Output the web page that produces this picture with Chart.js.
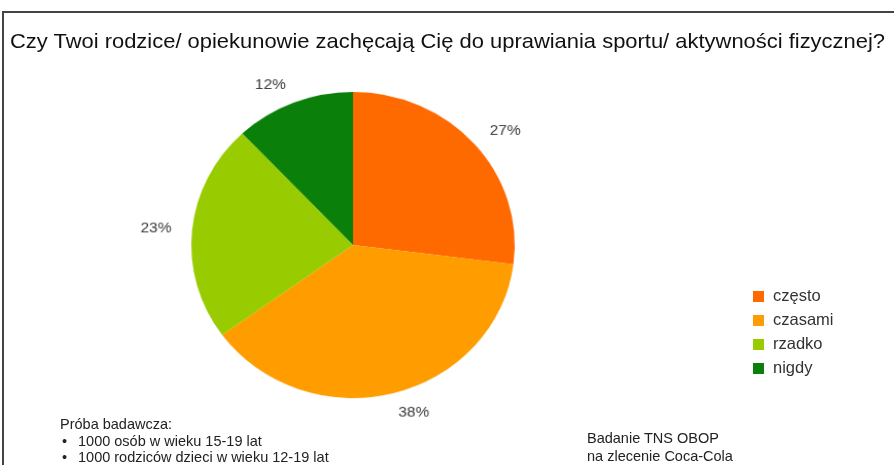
<!DOCTYPE html>
<html><head><meta charset="utf-8">
<script src="https://cdn.jsdelivr.net/npm/chart.js@4/dist/chart.umd.min.js"></script>
<style>
html,body{margin:0;padding:0;background:#fff;}
#wrap{position:relative;width:894px;height:465px;overflow:hidden;font-family:"Liberation Sans",Arial,sans-serif;color:#222;}
#frame{position:absolute;left:2px;top:11px;width:900px;height:470px;border-top:2px solid #444;border-left:2px solid #444;}
#title{position:absolute;left:10px;top:29px;font-size:21px;white-space:nowrap;color:#111;transform-origin:0 0;}
#legend{position:absolute;left:753px;top:286px;font-size:16.5px;color:#333;}
#legend div{height:24px;line-height:18px;white-space:nowrap;}
#legend span.sw{display:inline-block;width:11px;height:11px;margin-right:9px;vertical-align:-1px;}
#sample{position:absolute;left:60px;top:416px;font-size:14.5px;line-height:16.5px;color:#222;}
#sample .li{padding-left:18px;position:relative;}
#sample .li:before{content:"•";position:absolute;left:2px;}
#src{position:absolute;left:587px;top:429px;font-size:14.5px;line-height:18px;color:#222;}
canvas{position:absolute;left:0;top:0;transform-origin:353px 245px;transform:scale(1.03,0.975);}
</style></head>
<body>
<div id="wrap">
<div id="frame"></div>
<canvas id="c" width="894" height="465"></canvas>
<div id="title"></div>
<div id="legend"></div>
<div id="sample"></div>
<div id="src"></div>
</div>
<script>
const titleText = "Czy Twoi rodzice/ opiekunowie zachęcają Cię do uprawiania sportu/ aktywności fizycznej?";
const categories = ["często", "czasami", "rzadko", "nigdy"];
const values = [27, 38, 23, 12];
const colors = ["#FF6A00", "#FF9C00", "#99CC00", "#0A800A"];
const sampleTitle = "Próba badawcza:";
const sampleItems = ["1000 osób w wieku 15-19 lat", "1000 rodziców dzieci w wieku 12-19 lat"];
const sourceLines = ["Badanie TNS OBOP", "na zlecenie Coca-Cola"];

const tEl=document.getElementById('title');
tEl.textContent = titleText;
const tw=tEl.getBoundingClientRect().width;
tEl.style.transform='scaleX('+(875/tw)+')';
const lg = document.getElementById('legend');
categories.forEach((c,i)=>{
  const d=document.createElement('div');
  const s=document.createElement('span'); s.className='sw'; s.style.background=colors[i];
  d.appendChild(s); d.appendChild(document.createTextNode(c)); lg.appendChild(d);
});
const sm=document.getElementById('sample');
const st=document.createElement('div'); st.textContent=sampleTitle; sm.appendChild(st);
sampleItems.forEach(t=>{const d=document.createElement('div'); d.className='li'; d.textContent=t; sm.appendChild(d);});
const sr=document.getElementById('src');
sourceLines.forEach(t=>{const d=document.createElement('div'); d.textContent=t; sr.appendChild(d);});

const outLabels = {
  id:'outLabels',
  afterDatasetsDraw(chart){
    const ctx=chart.ctx;
    const meta=chart.getDatasetMeta(0);
    ctx.save();
    ctx.font='15px "Liberation Sans", Arial, sans-serif';
    ctx.fillStyle='#3a3a3a';
    ctx.textBaseline='middle';
    meta.data.forEach((arc,i)=>{
      const p=arc.getProps(['x','y','startAngle','endAngle','outerRadius'],true);
      const a=(p.startAngle+p.endAngle)/2;
      const r=p.outerRadius+20;
      const x=p.x+Math.cos(a)*r, y=p.y+Math.sin(a)*r;
      ctx.textAlign = x < p.x ? 'right' : 'left';
      ctx.fillText(values[i]+'%', x, y);
    });
    ctx.restore();
  }
};

new Chart(document.getElementById('c'),{
  type:'pie',
  data:{labels:categories,datasets:[{data:values,backgroundColor:colors,borderWidth:0}]},
  options:{
    responsive:false,animation:false,
    layout:{padding:{left:196,right:384,top:88,bottom:63}},
    plugins:{legend:{display:false},tooltip:{enabled:false},title:{display:false}}
  },
  plugins:[outLabels]
});
</script>
</body></html>
